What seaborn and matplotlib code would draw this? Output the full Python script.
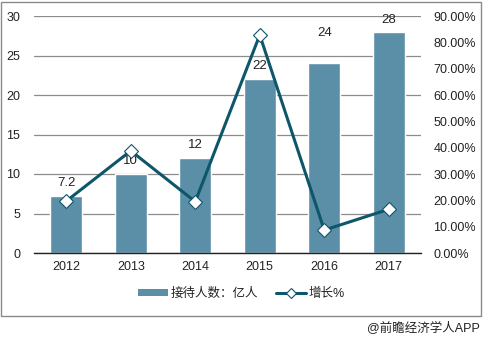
import matplotlib
matplotlib.use("Agg")
import matplotlib.pyplot as plt
import seaborn as sns
import pandas as pd
import numpy as np
from matplotlib.ticker import FuncFormatter, MultipleLocator
from matplotlib.lines import Line2D
from matplotlib.patches import Patch, Rectangle

years = ["2012", "2013", "2014", "2015", "2016", "2017"]
visitors = [7.2, 10, 12, 22, 24, 28]
visitor_labels = ["7.2", "10", "12", "22", "24", "28"]
growth = [19.7, 38.8, 19.5, 82.8, 8.7, 16.6]

bar_name = "接待人数：亿人"
line_name = "增长%"
watermark = "@前瞻经济学人APP"

sns.set_theme(style="white")
plt.rcParams['font.family'] = ['Liberation Sans', 'Noto Sans CJK SC', 'DejaVu Sans']

bar_color = "#5A8FA7"
line_color = "#0E566A"
text_color = "#222222"

df = pd.DataFrame({"year": years, "visitors": visitors, "growth": growth})
df["pos"] = np.arange(len(df))

fig = plt.figure(figsize=(4.83, 3.42), dpi=100)
ax = fig.add_axes([34/483, 1-253/342, (421-34)/483, (253-16)/342])

sns.barplot(data=df, x="year", y="visitors", color=bar_color, width=0.49,
            saturation=1, ax=ax, zorder=2)
ax.set_ylim(0, 30)
ax.yaxis.set_major_locator(MultipleLocator(5))
ax.set_xlim(-0.5, len(years) - 0.5)
ax.grid(axis="y", color="#8c8c8c", linewidth=0.9, zorder=0)
ax.set_axisbelow(True)
for s in ["left", "right", "top"]:
    ax.spines[s].set_visible(False)
ax.spines["bottom"].set_color("#222222")
ax.spines["bottom"].set_linewidth(1.0)
ax.set_xlabel("")
ax.set_ylabel("")
ax.tick_params(axis="both", length=0, labelsize=9, colors=text_color)
ax.tick_params(axis="y", pad=10)
ax.tick_params(axis="x", pad=6)

offsets = [13, 13, 13, 13, 30, 12]
for i, (v, lab) in enumerate(zip(visitors, visitor_labels)):
    ax.annotate(lab, (i, v), xytext=(0, offsets[i]), textcoords="offset pixels",
                ha="center", va="center", fontsize=9.5, color=text_color)

ax2 = ax.twinx()
sns.lineplot(data=df, x="pos", y="growth", ax=ax2, color=line_color, linewidth=2.2,
             marker="D", markersize=7, markerfacecolor="white",
             markeredgecolor=line_color, markeredgewidth=0.8, zorder=3)
ax2.set_ylim(0, 90)
ax2.yaxis.set_major_locator(MultipleLocator(10))
ax2.yaxis.set_major_formatter(FuncFormatter(lambda v, p: f"{v:.2f}%"))
ax2.set_xlim(-0.5, len(years) - 0.5)
for s in ["left", "right", "top", "bottom"]:
    ax2.spines[s].set_visible(False)
ax2.set_xlabel("")
ax2.set_ylabel("")
ax2.tick_params(axis="y", length=0, labelsize=9, colors=text_color, pad=9)

handles = [Patch(facecolor=bar_color, edgecolor="none"),
           Line2D([0], [0], color=line_color, linewidth=2.2, marker="D", markersize=5,
                  markerfacecolor="white", markeredgecolor=line_color, markeredgewidth=0.8)]
fig.legend(handles, [bar_name, line_name], loc="center", bbox_to_anchor=(0.5, 1-294/342),
           ncol=2, frameon=False, fontsize=9, handlelength=2.4, handleheight=0.5,
           columnspacing=1.4, handletextpad=0.25, labelcolor=text_color)

fig.patches.append(Rectangle((1/483, 1-316/342), 480/483, 314/342, transform=fig.transFigure,
                             fill=False, edgecolor="#8a8a8a", linewidth=1.0))
fig.text(480/483, 1-328/342, watermark, ha="right", va="center", fontsize=9, color=text_color)

fig.savefig("out.png", dpi=100)
